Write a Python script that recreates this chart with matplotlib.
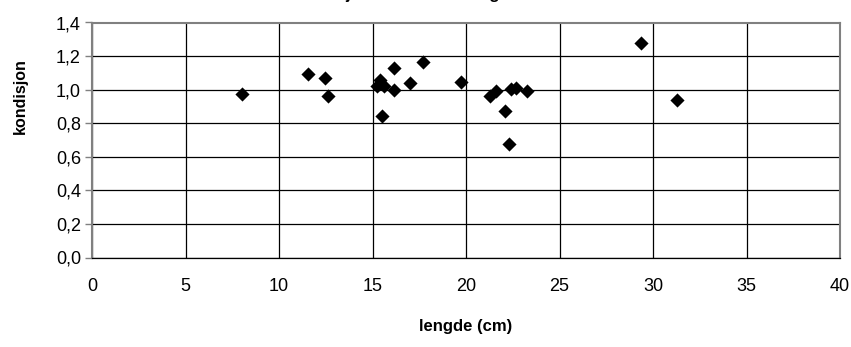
import numpy as np
import matplotlib
matplotlib.use("Agg")
import matplotlib.pyplot as plt
from matplotlib.ticker import FuncFormatter, MultipleLocator

plt.rcParams['font.family'] = ['Liberation Sans', 'DejaVu Sans']

# lengde (cm) og kondisjon, lest av figuren
lengde = [8.0, 11.55, 12.44, 12.62, 15.39, 15.25, 15.6, 15.53, 16.17, 16.17,
          17.0, 17.69, 19.71, 21.27, 21.59, 22.39, 22.66, 23.25, 22.09, 22.32,
          29.37, 31.3]
kondisjon = [0.976, 1.095, 1.072, 0.964, 1.06, 1.024, 1.024, 0.843, 1.13, 0.998,
             1.038, 1.167, 1.048, 0.96, 0.99, 1.004, 1.01, 0.99, 0.870, 0.676,
             1.276, 0.940]
tittel = "Kondisjon i forhold til lengde 2005"

fig = plt.figure(figsize=(8.51, 3.47), dpi=100)
ax = fig.add_axes([92/851, 1-257.5/347, (840-92)/851, (257.5-22.5)/347])

ax.scatter(lengde, kondisjon, marker='D', s=52, color='black', zorder=3,
           linewidths=0)

ax.set_xlim(0, 40)
ax.set_ylim(0, 1.4)
ax.xaxis.set_major_locator(MultipleLocator(5))
ax.yaxis.set_major_locator(MultipleLocator(0.2))
ax.yaxis.set_major_formatter(FuncFormatter(lambda v, p: f"{v:.1f}".replace('.', ',')))
ax.grid(True, color='black', linewidth=0.9)
ax.set_axisbelow(True)

for s in ['top', 'right', 'left']:
    ax.spines[s].set_color('#808080')
    ax.spines[s].set_linewidth(1.5)
ax.spines['bottom'].set_color('black')
ax.spines['bottom'].set_linewidth(0.9)

ax.tick_params(axis='x', length=0, pad=15, labelsize=13)
ax.tick_params(axis='y', length=5, color='#808080', width=1, pad=3, labelsize=13)

ax.set_xlabel('lengde (cm)', fontsize=12, fontweight='bold')
ax.xaxis.set_label_coords(0.5, -(326 - 257.5) / 235, transform=ax.transAxes)
ax.xaxis.label.set_va('center')
ax.set_ylabel('kondisjon', fontsize=11.5, fontweight='bold')
ax.yaxis.set_label_coords(-(92 - 20) / 748, (257.5 - 96) / 235)
ax.yaxis.label.set_va('center')

# title sits mostly above the top edge, as in the original
fig.text(425/851, 1 + 1.5/347, tittel, ha='center', va='baseline',
         fontsize=12, fontweight='bold')

plt.savefig('out.png', dpi=100)
